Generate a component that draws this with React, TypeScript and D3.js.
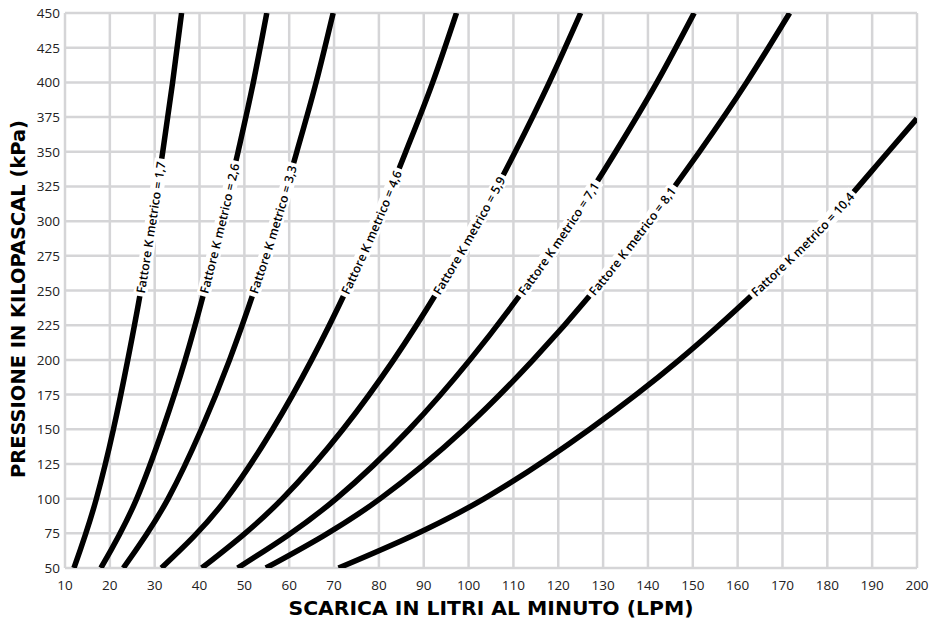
import { useEffect, useRef } from 'react'
import * as d3 from 'd3'

// flow (LPM) vs pressure (kPa)
const kLabels = ['1,7', '2,6', '3,3', '4,6', '5,9', '7,1', '8,1', '10,4']
const flows17 = [12, 17, 20.8, 24, 26.9, 29.4, 31.8, 34, 36]
const flows26 = [18, 26, 31.8, 36.8, 41.1, 45, 48.6, 52, 55]
const flows33 = [23, 33, 40.4, 46.7, 52.2, 57.2, 61.7, 66, 69.8]
const flows46 = [31.5, 46, 56.3, 65, 72.7, 79.7, 86, 92, 97.3]
const flows59 = [40.5, 58.5, 72, 83.3, 93.2, 102.2, 110.4, 118, 125]
const flows71 = [48.5, 70.5, 86.8, 100.3, 112.2, 123, 132.8, 142, 150.3]
const flows81 = [54.8, 80.3, 99, 114.4, 128, 140.2, 151.5, 162, 171.6]
const flows104 = [71, 103.5, 127, 147, 164.3, 180.1, 193.6, 200]
const pressures = [50, 100, 150, 200, 250, 300, 350, 400, 450]
const pressures104 = [50, 100, 150, 200, 250, 300, 350, 374]

const xTicks = d3.range(10, 201, 10)
const yTicks = d3.range(50, 451, 25)

const series = [flows17, flows26, flows33, flows46, flows59, flows71, flows81, flows104]

export default function App() {
  const ref = useRef<SVGSVGElement>(null)

  useEffect(() => {
    document.body.style.margin = '0'
    const svg = d3.select(ref.current)
    svg.selectAll('*').remove()

    const W = 930, H = 626
    const m = { top: 13, right: 13, bottom: 58, left: 65 }
    const x = d3.scaleLinear().domain([10, 200]).range([m.left, W - m.right])
    const y = d3.scaleLinear().domain([50, 450]).range([H - m.bottom, m.top])
    const tickFont = '"Open Sans", "Noto Sans", sans-serif'
    const titleFont = '"DejaVu Sans", "Liberation Sans", sans-serif'

    svg.append('defs').append('clipPath').attr('id', 'plot')
      .append('rect')
      .attr('x', m.left).attr('y', m.top)
      .attr('width', W - m.left - m.right).attr('height', H - m.top - m.bottom)

    const grid = svg.append('g').attr('stroke', '#d5d5d7').attr('stroke-width', 2.5)
    grid.selectAll('line.v').data(xTicks).enter().append('line')
      .attr('x1', d => x(d)).attr('x2', d => x(d))
      .attr('y1', y(450)).attr('y2', y(50))
    grid.selectAll('line.h').data(yTicks).enter().append('line')
      .attr('y1', d => y(d)).attr('y2', d => y(d))
      .attr('x1', x(10)).attr('x2', x(200))

    svg.append('g').selectAll('text').data(xTicks).enter().append('text')
      .attr('x', d => x(d)).attr('y', H - m.bottom + 22)
      .attr('text-anchor', 'middle')
      .style('font-family', tickFont).style('font-size', '13.5px').attr('fill', '#222')
      .text(d => d)
    svg.append('g').selectAll('text').data(yTicks).enter().append('text')
      .attr('x', m.left - 5).attr('y', d => y(d) + 5)
      .attr('text-anchor', 'end')
      .style('font-family', tickFont).style('font-size', '13.5px').attr('fill', '#222')
      .text(d => d)

    svg.append('text')
      .attr('x', (x(10) + x(200)) / 2).attr('y', 615)
      .attr('text-anchor', 'middle')
      .attr('textLength', 405).attr('lengthAdjust', 'spacingAndGlyphs')
      .style('font-family', titleFont)
      .style('font-weight', 700).style('font-size', '19px')
      .text('SCARICA IN LITRI AL MINUTO (LPM)')
    svg.append('text')
      .attr('transform', `translate(25,299) rotate(-90)`)
      .attr('text-anchor', 'middle')
      .attr('textLength', 358).attr('lengthAdjust', 'spacingAndGlyphs')
      .style('font-family', titleFont)
      .style('font-weight', 700).style('font-size', '19px')
      .text('PRESSIONE IN KILOPASCAL (kPa)')

    const line = d3.line<[number, number]>()
      .x(d => x(d[0])).y(d => y(d[1]))
      .curve(d3.curveMonotoneX)

    const plot = svg.append('g').attr('clip-path', 'url(#plot)')
    const labels = svg.append('g')

    series.forEach((flows, i) => {
      const ps = i === 7 ? pressures104 : pressures
      const pts: [number, number][] = flows.map((f, j) => [f, ps[j]])
      const id = `curve${i}`
      const path = plot.append('path')
        .attr('id', id)
        .attr('d', line(pts))
        .attr('fill', 'none').attr('stroke', '#000').attr('stroke-width', 5.5)
      const node = path.node() as SVGPathElement
      const total = node.getTotalLength()

      // label starts near 246 kPa on every curve
      const targetY = y(246)
      let lo = 0, hi = total
      for (let k = 0; k < 40; k++) {
        const mid = (lo + hi) / 2
        if (node.getPointAtLength(mid).y > targetY) lo = mid
        else hi = mid
      }
      const start = lo

      const text = labels.append('text')
        .style('font-family', tickFont).style('font-weight', 600)
        .style('font-size', '12.2px').attr('dy', '0.36em')
      text.append('textPath')
        .attr('href', `#${id}`)
        .attr('startOffset', start + 3)
        .text(`Fattore K metrico = ${kLabels[i]}`)
      const len = (text.node() as SVGTextElement).getComputedTextLength()

      // white band behind the label
      plot.append('path')
        .attr('d', line(pts))
        .attr('fill', 'none').attr('stroke', '#fff').attr('stroke-width', 14)
        .attr('stroke-dasharray', `0 ${start} ${len + 6} ${total}`)
    })
  }, [])

  return <svg ref={ref} width={930} height={626} style={{ display: 'block', background: '#fff' }} />
}
